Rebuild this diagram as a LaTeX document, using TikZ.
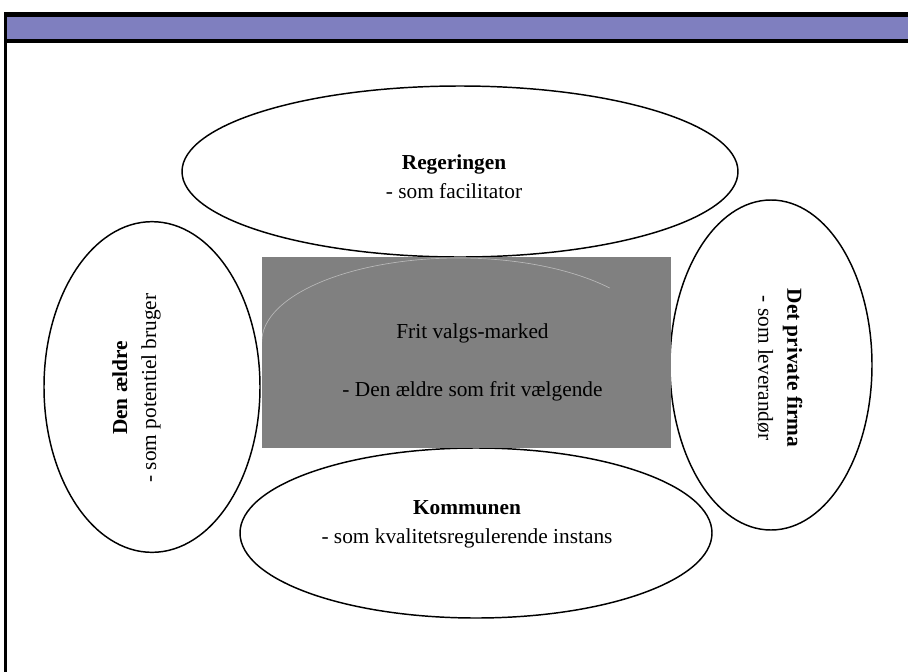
\documentclass[tikz,border=0pt]{standalone}
\usepackage{fontspec}
\setmainfont{Liberation Serif}
\usetikzlibrary{shapes.geometric}
\definecolor{titlebar}{HTML}{7F7FBF}
\definecolor{market}{HTML}{808080}

\begin{document}
\begin{tikzpicture}[x=0.75pt,y=-0.75pt,font=\fontsize{16}{21.75}\selectfont]
\tikzset{actor/.style={draw=black,line width=1.1pt,fill=white,ellipse,inner sep=0pt}, lbl/.style={align=center,inner sep=0pt}}
\useasboundingbox (0,0) rectangle (908,672);
% frame and title bar
\fill[black] (4,11.5) rectangle (908,43);
\fill[titlebar] (7,17) rectangle (908,39);
\fill[black] (4,11.5) rectangle (7,672);
% actors
\node[actor,minimum width=417pt,minimum height=128.25pt] (reg) at (460,171.5) {};
\node[actor,minimum width=162pt,minimum height=248pt] (aeld) at (152,387) {};
\node[actor,minimum width=151.5pt,minimum height=247.5pt] (firm) at (771,365) {};
\node[actor,minimum width=354pt,minimum height=127.5pt] (kom) at (476,533) {};
% market in the middle
\node[fill=market,minimum width=306.75pt,minimum height=143.25pt,inner sep=0pt] (mkt) at (466.5,352.5) {};
\draw[white,opacity=0.45,line width=0.5pt] (mkt.west |- 0,342) arc[start angle=180,end angle=320,x radius=197,y radius=84];
% texts
\node[lbl] (regtxt) at (454,177) {\textbf{Regeringen}\\- som facilitator};
\node[lbl,rotate=90] (aeldtxt) at (136.5,388) {\textbf{Den ældre}\\- som potentiel bruger};
\node[lbl,rotate=-90] (firmtxt) at (780,368) {\textbf{Det private firma}\\- som leverandør};
\node[lbl] (komtxt) at (467,524) {\textbf{Kommunen}\\- som kvalitetsregulerende instans};
\node[lbl] (mkttxt) at (472.5,362.5) {Frit valgs-marked\\[21.75pt]- Den ældre som frit vælgende};
\end{tikzpicture}
\end{document}
